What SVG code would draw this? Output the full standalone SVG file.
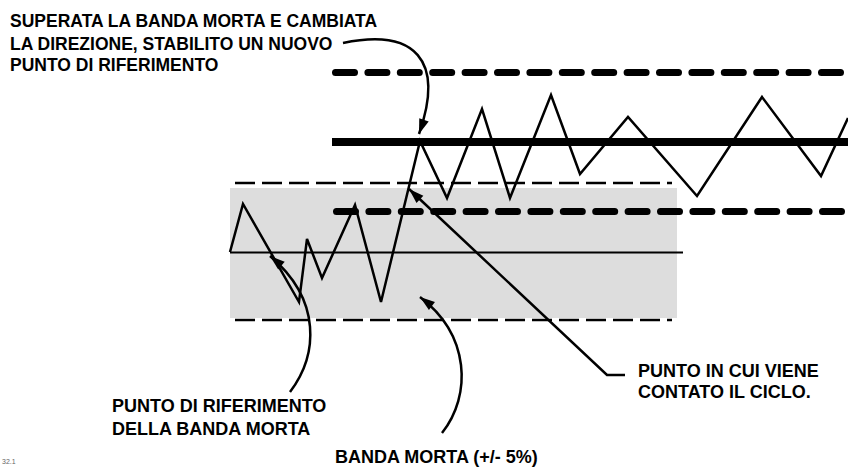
<svg xmlns="http://www.w3.org/2000/svg" width="848" height="467" viewBox="0 0 848 467">
<style>
.lbl{font-family:"Liberation Sans",Arial,sans-serif;font-weight:bold;fill:#000}
.top{font-size:17.5px}
.bot{font-size:18px}
.thin{fill:none;stroke:#000;stroke-width:2.5;stroke-dasharray:20 7}
.thick{fill:none;stroke:#000;stroke-width:7;stroke-linecap:round;stroke-dasharray:19 13.4}
.arrow{fill:none;stroke:#000;stroke-width:2.5;marker-end:url(#ah)}
</style>
<defs>
<marker id="ah" markerUnits="userSpaceOnUse" orient="auto" markerWidth="20" markerHeight="14" viewBox="-16 -7 17 14" refX="0" refY="0">
<path d="M0,0 L-15,-5 L-15,5 Z" fill="#000"/>
</marker>
</defs>
<rect width="848" height="467" fill="#fff"/>
<g id="deadband">
<rect x="230" y="188" width="447" height="130" fill="#dddddd"/>
<line class="thin" x1="235" y1="183" x2="672" y2="183"/>
<line class="thin" x1="235" y1="320" x2="672" y2="320"/>
<line x1="230" y1="252.5" x2="683" y2="252.5" stroke="#000" stroke-width="2"/>
</g>
<g id="new-band">
<line class="thick" x1="335.5" y1="72.5" x2="848" y2="72.5"/>
<line class="thick" x1="336.5" y1="211.5" x2="848" y2="211.5"/>
<line x1="332" y1="142" x2="848" y2="142" stroke="#000" stroke-width="8"/>
</g>
<g id="signal">
<polyline fill="none" stroke="#000" stroke-width="2.5" stroke-linejoin="miter" points="230,252 243,204 299,302 307,239 322,278 355,205 381,302 420,141 447,198 482,109 510,198 551,95 580,174 628,117 697,196 762,97 821,176 848,118"/>
</g>
<g id="connectors">
<path class="arrow" d="M343,43 C415,28 445,60 419,134"/>
<path class="arrow" d="M625,375 L607,375 L409,189"/>
<path class="arrow" d="M290,392 C318,355 322,300 270,256"/>
<path class="arrow" d="M442,433 C472,395 470,335 420,297"/>
</g>
<g id="label-new-ref">
<text class="lbl top" x="10" y="27">SUPERATA LA BANDA MORTA E CAMBIATA</text>
<text class="lbl top" x="10" y="49.5">LA DIREZIONE, STABILITO UN NUOVO</text>
<text class="lbl top" x="10" y="71">PUNTO DI RIFERIMENTO</text>
</g>
<g id="label-cycle">
<text class="lbl bot" x="638" y="377">PUNTO IN CUI VIENE</text>
<text class="lbl bot" x="638" y="398">CONTATO IL CICLO.</text>
</g>
<g id="label-ref">
<text class="lbl bot" x="112" y="412">PUNTO DI RIFERIMENTO</text>
<text class="lbl bot" x="112" y="435">DELLA BANDA MORTA</text>
</g>
<g id="label-band">
<text class="lbl bot" x="335" y="463">BANDA MORTA (+/- 5%)</text>
</g>
<text x="2" y="464" font-family="Liberation Sans,Arial,sans-serif" font-size="7" fill="#666">32.1</text>
</svg>
